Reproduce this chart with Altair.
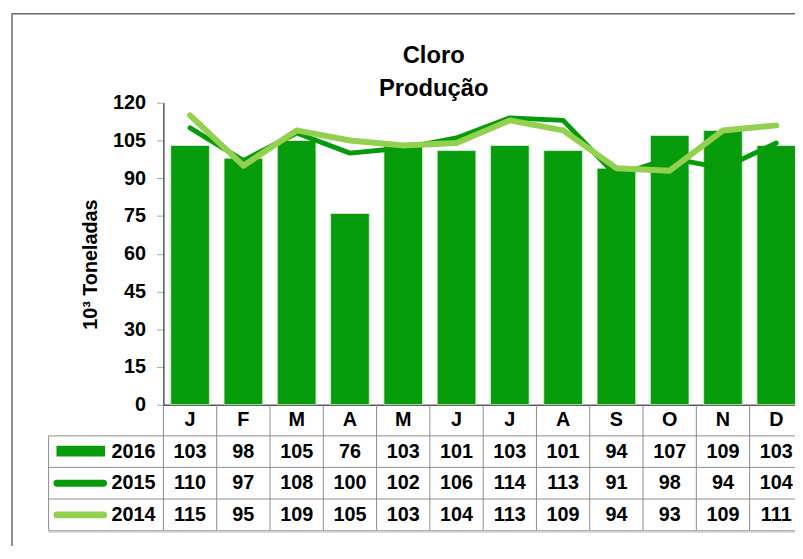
import altair as alt
import pandas as pd

# ---- data ----
meses = ["Jan", "Fev", "Mar", "Abr", "Mai", "Jun", "Jul", "Ago", "Set", "Out", "Nov", "Dez"]
letras = ["J", "F", "M", "A", "M", "J", "J", "A", "S", "O", "N", "D"]
series = ["2016", "2015", "2014"]
v2016 = [103, 98, 105, 76, 103, 101, 103, 101, 94, 107, 109, 103]
v2015 = [110, 97, 108, 100, 102, 106, 114, 113, 91, 98, 94, 104]
v2014 = [115, 95, 109, 105, 103, 104, 113, 109, 94, 93, 109, 111]
y_ticks = [0, 15, 30, 45, 60, 75, 90, 105, 120]
titulo = ["Cloro", "Produção"]

# ---- style ----
FONT = "Liberation Sans"
W, H = 646, 305
C_BAR = "#069C0C"
C_2015 = "#079A0B"
C_2014 = "#92D050"
GRID = "#8C8C8C"
ROW_HEADER = 320.5
ROW_Y = [352.4, 384.3, 416.3]
HLINES = [336.5, 368.3, 400.3, 432.3]
TABLE_LEFT = -116
TITLE_X = 273
TITLE_Y = [-40, -7]

valores = {"2016": v2016, "2015": v2015, "2014": v2014}
df_mes = pd.DataFrame({"mes": meses, "letra": letras})
one = pd.DataFrame({"k": [0]})

xscale = alt.Scale(domain=meses, paddingInner=0, paddingOuter=0)
yscale = alt.Scale(domain=[0, 120], nice=False)
yaxis = alt.Axis(values=y_ticks, title="10³ Toneladas")


def X(**kw):
    return alt.X("mes:N", sort=meses, scale=xscale, title=None, **kw)


def Y():
    return alt.Y("valor:Q", scale=yscale, axis=yaxis)


layers = []

# table vertical lines (column boundaries)
layers.append(
    alt.Chart(df_mes).mark_rule(color=GRID, strokeWidth=1).encode(
        x=X(bandPosition=0), y=alt.value(H), y2=alt.value(HLINES[-1])
    )
)
# table horizontal lines
for hy in HLINES:
    layers.append(
        alt.Chart(one).mark_rule(color=GRID, strokeWidth=1).encode(
            x=alt.value(TABLE_LEFT), x2=alt.value(W + 20), y=alt.value(hy)
        )
    )
layers.append(
    alt.Chart(one).mark_rule(color=GRID, strokeWidth=1).encode(
        x=alt.value(TABLE_LEFT), y=alt.value(HLINES[0]), y2=alt.value(HLINES[-1])
    )
)
layers.append(
    alt.Chart(one).mark_rule(color="#D0D0D0", strokeWidth=2).encode(
        x=alt.value(TABLE_LEFT), x2=alt.value(W + 20), y=alt.value(HLINES[-1] + 1)
    )
)

# bars 2016
df16 = pd.DataFrame({"mes": meses, "valor": v2016})
layers.append(
    alt.Chart(df16).mark_bar(
        width=alt.RelativeBandSize(0.725), color=C_BAR, stroke="#DDEFD6", strokeWidth=0.8
    ).encode(x=X(), y=Y())
)
# lines 2015, 2014
df15 = pd.DataFrame({"mes": meses, "valor": v2015})
df14 = pd.DataFrame({"mes": meses, "valor": v2014})
layers.append(
    alt.Chart(df15).mark_line(color=C_2015, strokeWidth=5, strokeCap="round", strokeJoin="round").encode(
        x=X(), y=Y()
    )
)
layers.append(
    alt.Chart(df14).mark_line(color=C_2014, strokeWidth=6, strokeCap="round", strokeJoin="round").encode(
        x=X(), y=Y()
    )
)

txt = dict(font=FONT, fontSize=20, fontWeight="bold", color="black", baseline="middle", align="center")

# header (month letters)
layers.append(
    alt.Chart(df_mes).mark_text(**txt).encode(x=X(), y=alt.value(ROW_HEADER), text="letra:N")
)

# table rows
for i, s in enumerate(series):
    dfs = pd.DataFrame({"mes": meses, "valor": valores[s]})
    layers.append(
        alt.Chart(dfs).mark_text(**txt).encode(x=X(), y=alt.value(ROW_Y[i]), text="valor:Q")
    )
    dfl = pd.DataFrame({"serie": [s]})
    layers.append(
        alt.Chart(dfl).mark_text(**{**txt, "align": "right"}).encode(
            x=alt.value(-8), y=alt.value(ROW_Y[i]), text="serie:N"
        )
    )

# legend keys
layers.append(
    alt.Chart(one).mark_rect(color=C_BAR).encode(
        x=alt.value(-108), x2=alt.value(-59), y=alt.value(ROW_Y[0] - 6), y2=alt.value(ROW_Y[0] + 5)
    )
)
layers.append(
    alt.Chart(one).mark_rule(color=C_2015, strokeWidth=7, strokeCap="round").encode(
        x=alt.value(-107.5), x2=alt.value(-60.5), y=alt.value(ROW_Y[1])
    )
)
layers.append(
    alt.Chart(one).mark_rule(color=C_2014, strokeWidth=7, strokeCap="round").encode(
        x=alt.value(-107.5), x2=alt.value(-60.5), y=alt.value(ROW_Y[2])
    )
)

# title lines
for i, t in enumerate(titulo):
    layers.append(
        alt.Chart(pd.DataFrame({"t": [t]})).mark_text(
            font=FONT, fontSize=24, fontWeight="bold", color="black", align="center", baseline="alphabetic"
        ).encode(x=alt.value(TITLE_X), y=alt.value(TITLE_Y[i]), text="t:N")
    )

# outer chart-area border (left and top)
layers.append(
    alt.Chart(one).mark_rule(color="#6A6A6A", strokeWidth=1.5).encode(
        x=alt.value(-153), y=alt.value(-90), y2=alt.value(460)
    )
)
layers.append(
    alt.Chart(one).mark_rule(color="#6A6A6A", strokeWidth=1.5).encode(
        x=alt.value(-153), x2=alt.value(W + 20), y=alt.value(-90)
    )
)

chart = (
    alt.layer(*layers)
    .properties(
        width=W,
        height=H,
        autosize=alt.AutoSizeParams(type="none"),
        padding={"left": 157, "top": 93, "right": -8, "bottom": 140},
    )
    .configure_view(stroke=None)
    .configure_axisX(labels=False, ticks=False, grid=False, domainColor="black", domainWidth=1, title=None)
    .configure_axisY(
        grid=False,
        labelFont=FONT,
        labelFontSize=20,
        labelFontWeight="bold",
        labelColor="black",
        labelPadding=11,
        tickColor="#A6A6A6",
        tickSize=7,
        domainColor="black",
        domainWidth=1,
        titleFont=FONT,
        titleFontSize=20,
        titleFontWeight="bold",
        titleColor="black",
        titleAngle=270,
        titleAlign="center",
        titleBaseline="middle",
        titleX=-74,
        titleY=163,
    )
)

chart.save("out.html", embed_options={"renderer": "svg", "actions": False})
